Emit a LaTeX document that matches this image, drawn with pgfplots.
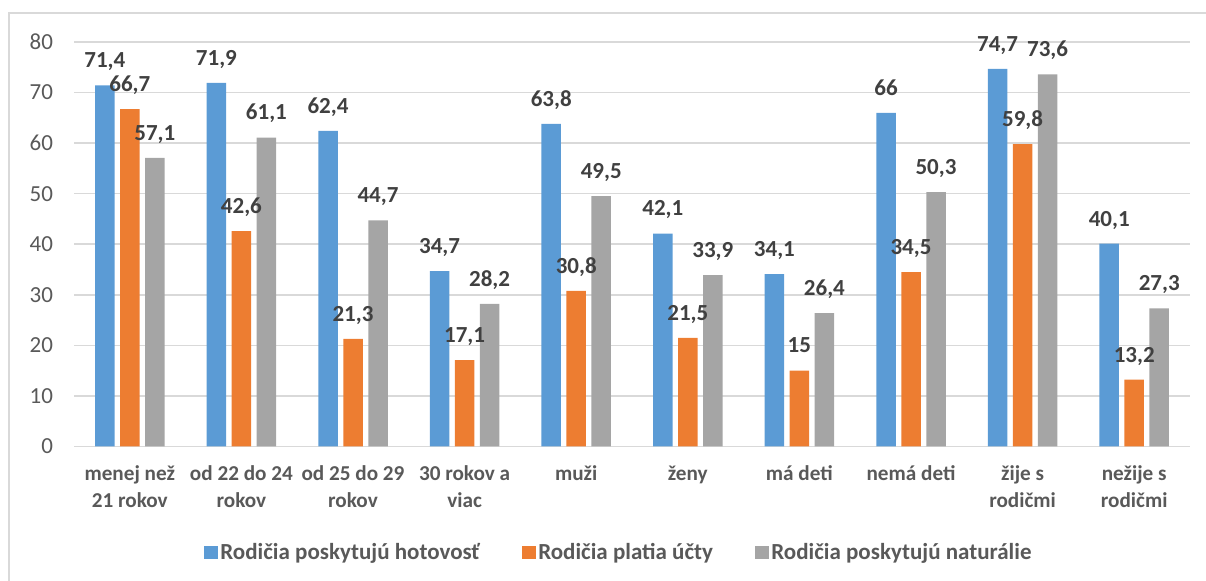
\documentclass[border=0pt]{standalone}
\usepackage{pgfplots}
\pgfplotsset{compat=1.18}
\usepackage{fontspec}
\setmainfont{Carlito}
\definecolor{cblue}{HTML}{5B9BD5}
\definecolor{corange}{HTML}{ED7D31}
\definecolor{cgray}{HTML}{A5A5A5}
\definecolor{cgrid}{HTML}{D9D9D9}
\definecolor{ctext}{HTML}{595959}
\definecolor{clabel}{HTML}{404040}
\begin{document}
\begin{tikzpicture}
\path[use as bounding box] (0,0) rectangle (603pt,290.5pt);
\draw[color=cgrid, line width=0.8pt] (4.5pt,0) -- (4.5pt,284pt) -- (603pt,284pt);
\begin{axis}[
  at={(37pt,67.25pt)}, anchor=south west,
  scale only axis, width=558pt, height=202.25pt,
  xmin=-0.5, xmax=9.5, ymin=0, ymax=80,
  enlargelimits=false,
  ytick={0,10,...,80},
  xtick={0,...,9},
  xticklabels={{menej než\\21 rokov},{od 22 do 24\\rokov},{od 25 do 29\\rokov},{30 rokov a\\viac},{muži},{ženy},{má deti},{nemá deti},{žije s\\rodičmi},{nežije s\\rodičmi}},
  ybar=2.75pt, bar width=9.75pt,
  axis line style={draw=none},
  major tick length=0pt,
  ymajorgrids, grid style={cgrid, line width=0.8pt},
  /pgf/number format/assume math mode=true,
  yticklabel style={font=\fontsize{11.5}{13}\selectfont, color=ctext, xshift=-7pt},
  xticklabel style={font=\bfseries\fontsize{10.6}{13.3}\selectfont, color=ctext, align=center, yshift=-6pt},
  nodes near coords,
  every node near coord/.append style={font=\bfseries\fontsize{11.5}{13}\selectfont, color=clabel, anchor=base, yshift=8.85pt, inner sep=0pt, /pgf/number format/use comma, /pgf/number format/assume math mode=true},
  legend style={at={(0.4885,-0.262)}, anchor=center, draw=none, legend columns=3,
    font=\bfseries\fontsize{11.5}{13}\selectfont, text=ctext,
    /tikz/every even column/.append style={column sep=20pt},
    nodes={inner sep=1.2pt}},
  legend image code/.code={\fill[#1,draw=none] (0pt,-3.4pt) rectangle (6.8pt,3.4pt);},
]
\addplot[fill=cblue, draw=none] coordinates {(0,71.4) (1,71.9) (2,62.4) (3,34.7) (4,63.8) (5,42.1) (6,34.1) (7,66) (8,74.7) (9,40.1)};
\addplot[fill=corange, draw=none] coordinates {(0,66.7) (1,42.6) (2,21.3) (3,17.1) (4,30.8) (5,21.5) (6,15) (7,34.5) (8,59.8) (9,13.2)};
\addplot[fill=cgray, draw=none] coordinates {(0,57.1) (1,61.1) (2,44.7) (3,28.2) (4,49.5) (5,33.9) (6,26.4) (7,50.3) (8,73.6) (9,27.3)};
\legend{Rodičia poskytujú hotovosť, Rodičia platia účty, Rodičia poskytujú naturálie}
\end{axis}
\end{tikzpicture}
\end{document}
